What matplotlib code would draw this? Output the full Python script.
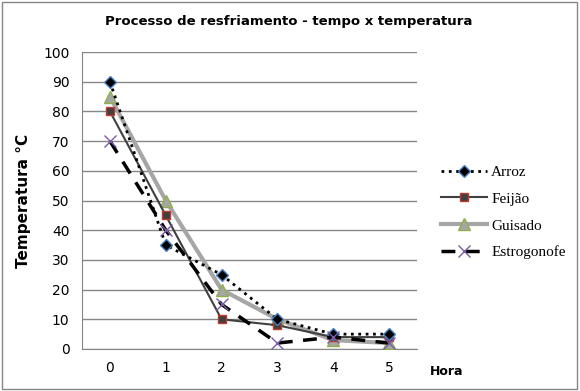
import matplotlib.pyplot as plt
from matplotlib.patches import Rectangle

# data
horas = [0, 1, 2, 3, 4, 5]
arroz = [90, 35, 25, 10, 5, 5]
feijao = [80, 45, 10, 8, 4, 4]
guisado = [85, 50, 20, 10, 3, 2]
estrogonofe = [70, 40, 15, 2, 4, 2]
yticks = list(range(0, 101, 10))

fig = plt.figure(figsize=(5.8, 3.91), dpi=100)
ax = fig.add_axes([82 / 580, 1 - 349 / 391, 335 / 580, 297 / 391])

ax.plot(horas, arroz, ':', color='black', lw=2, marker='D', ms=6,
        mfc='black', mec='#4a86c8', mew=1, label='Arroz', zorder=5)
ax.plot(horas, feijao, '-', color='#404040', lw=1.5, marker='s', ms=6,
        mfc='#404040', mec='#c0392b', mew=1, label='Feijão', zorder=4)
ax.plot(horas, guisado, '-', color='#a6a6a6', lw=3, marker='^', ms=8,
        mfc='#a6a6a6', mec='#8db04a', mew=1, label='Guisado', zorder=3)
ax.plot(horas, estrogonofe, '--', color='black', lw=2.5, dashes=(4, 3),
        marker='x', ms=9, mec='#7b5aa6', mew=1, label='Estrogonofe', zorder=6)

ax.set_xlim(-0.5, 5.5)
ax.set_ylim(0, 100)
ax.set_xticks(horas)
ax.set_yticks(yticks)
ax.tick_params(length=0, labelsize=10, pad=9)
ax.yaxis.grid(True, color='#868686', lw=1)
ax.set_axisbelow(True)
for s in ['top', 'right']:
    ax.spines[s].set_visible(False)
for s in ['left', 'bottom']:
    ax.spines[s].set_color('#868686')

ax.set_ylabel('Temperatura °C', fontsize=11, fontweight='bold', labelpad=9)
fig.text(289 / 580, 1 - 22 / 391, 'Processo de resfriamento - tempo x temperatura',
         fontsize=9.5, fontweight='bold', ha='center', va='center')
fig.text(430 / 580, 1 - 375 / 391, 'Hora', fontsize=9, fontweight='bold')

leg = ax.legend(loc='center left', bbox_to_anchor=(1.03, 0.46), frameon=False,
                prop={'family': 'Liberation Serif', 'size': 11},
                handlelength=3, labelspacing=0.85, handletextpad=0.3)

fig.patches.append(Rectangle((0.003, 0.006), 0.992, 0.99, transform=fig.transFigure,
                             fill=False, ec='#868686', lw=1))

fig.savefig('out.png', dpi=100)
